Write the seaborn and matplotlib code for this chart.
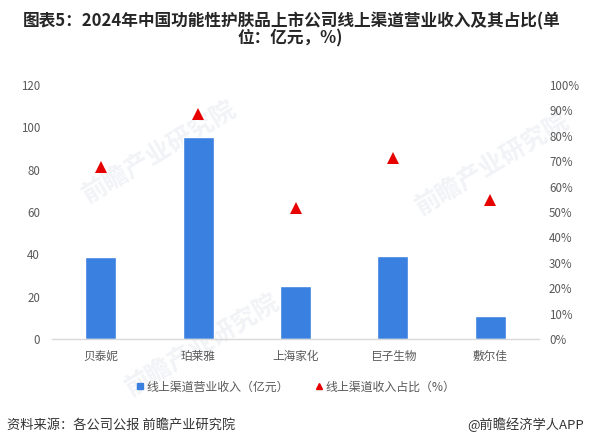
import matplotlib
matplotlib.use("Agg")
import matplotlib.pyplot as plt
import seaborn as sns
import pandas as pd
from matplotlib.lines import Line2D
from matplotlib.ticker import FuncFormatter, FixedLocator

# 2024 功能性护肤品上市公司线上渠道营业收入及占比
companies = ["贝泰妮", "珀莱雅", "上海家化", "巨子生物", "敷尔佳"]
online_revenue = [38.9, 95.4, 25.2, 39.3, 11.0]   # 亿元
online_share = [67.9, 88.4, 51.5, 71.2, 54.8]     # %
revenue_ticks = [0, 20, 40, 60, 80, 100, 120]
share_ticks = [0, 10, 20, 30, 40, 50, 60, 70, 80, 90, 100]

title_lines = ["图表5：2024年中国功能性护肤品上市公司线上渠道营业收入及其占比(单",
               "位：亿元，%)"]
legend_labels = ["线上渠道营业收入（亿元）", "线上渠道收入占比（%）"]
source_text = "资料来源：各公司公报 前瞻产业研究院"
brand_text = "@前瞻经济学人APP"
watermark_text = "前瞻产业研究院"

BLUE = "#3a80e0"
RED = "#e60000"
GRAY = "#595959"

sns.set_theme(style="white")
plt.rcParams["font.family"] = ["Noto Sans CJK SC", "DejaVu Sans"]

W, H = 589, 446
fig = plt.figure(figsize=(W / 100, H / 100), dpi=100)
fig.patch.set_facecolor("white")

# faint diagonal watermarks behind the plot
for cx, cy in [(160, 153), (493, 165), (203, 346)]:
    fig.text(cx / W, 1 - cy / H, watermark_text, fontsize=18, fontweight="bold",
             color="#f1f3f6", rotation=31, ha="center", va="center", zorder=-5)

ax = fig.add_axes([52 / W, 1 - 339 / H, 487 / W, 254 / H])
ax.patch.set_alpha(0)

df = pd.DataFrame({"公司": companies, "收入": online_revenue, "占比": online_share})

sns.barplot(data=df, x="公司", y="收入", color=BLUE, saturation=1, width=0.32,
            errorbar=None, ax=ax)

ax2 = ax.twinx()
ax2.patch.set_alpha(0)
sns.pointplot(data=df, x="公司", y="占比", color=RED, markers="^", linestyle="none",
              errorbar=None, markersize=8.6, markeredgewidth=0, ax=ax2)

ax.set_xlim(-0.5, len(companies) - 0.5)
ax.set_ylim(0, 120)
ax2.set_ylim(0, 100)
ax.yaxis.set_major_locator(FixedLocator(revenue_ticks))
ax2.yaxis.set_major_locator(FixedLocator(share_ticks))
ax2.yaxis.set_major_formatter(FuncFormatter(lambda v, _: f"{v:.0f}%"))

for a in (ax, ax2):
    a.set_xlabel("")
    a.set_ylabel("")
    a.grid(False)
    for s in a.spines.values():
        s.set_visible(False)
ax.spines["bottom"].set_visible(True)
ax.spines["bottom"].set_color("#d9d9d9")
ax.spines["bottom"].set_linewidth(1.0)

ax.tick_params(axis="y", length=0, pad=8.6, labelsize=8.3, labelcolor=GRAY)
ax.tick_params(axis="x", length=0, pad=8, labelsize=8.4, labelcolor=GRAY)
ax2.tick_params(axis="y", length=0, pad=7.2, labelsize=8.3, labelcolor=GRAY)
ax2.tick_params(axis="x", length=0, labelbottom=False)
for lab in ax.get_yticklabels() + ax2.get_yticklabels() + ax.get_xticklabels():
    lab.set_fontweight("light")

handles = [
    Line2D([], [], linestyle="none", marker="s", markersize=5, color=BLUE),
    Line2D([], [], linestyle="none", marker="^", markersize=4.5, color=RED),
]
fig.legend(handles, legend_labels, loc="center", bbox_to_anchor=(296 / W, 1 - 387 / H),
           ncol=2, frameon=False, fontsize=8.6, labelcolor=GRAY,
           handlelength=0.6, handletextpad=0.25, columnspacing=2.2)

fig.text(292 / W, 1 - 21 / H, title_lines[0], ha="center", va="center",
         fontsize=12, fontweight="bold", color="#262626")
fig.text(290 / W, 1 - 38 / H, title_lines[1], ha="center", va="center",
         fontsize=12, fontweight="bold", color="#262626")

fig.text(7 / W, 1 - 425 / H, source_text, ha="left", va="center",
         fontsize=9.5, color="#333333")
fig.text(584 / W, 1 - 425 / H, brand_text, ha="right", va="center",
         fontsize=9.5, color="#333333")

fig.savefig("out.png", dpi=100, facecolor="white")
